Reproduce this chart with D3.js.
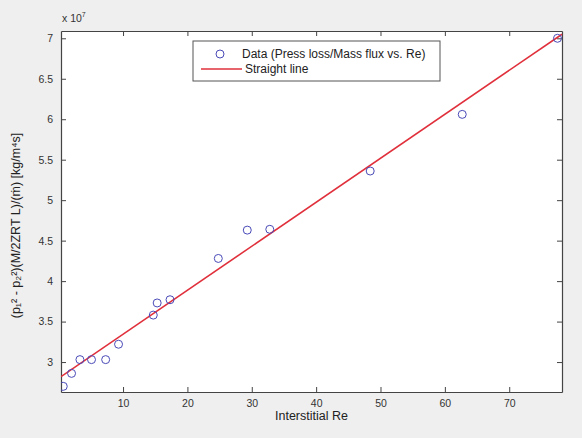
<!DOCTYPE html>
<html>
<head>
<meta charset="utf-8">
<script src="https://cdn.jsdelivr.net/npm/d3@7"></script>
<style>
  html, body { margin: 0; padding: 0; background: #efefef; }
  svg { display: block; }
  text { font-family: "Liberation Sans", Arial, sans-serif; }
</style>
</head>
<body>
<svg id="chart" width="582" height="438"></svg>
<script>
// Measured points: interstitial Reynolds number vs. pressure-loss / mass-flux group (×10^7)
const reValues   = [0.71, 2.0, 3.3, 5.1, 7.3, 9.3, 14.7, 15.3, 17.3, 24.8, 29.3, 32.8, 48.4, 62.7, 77.5];
const lossValues = [2.70, 2.86, 3.03, 3.03, 3.03, 3.22, 3.58, 3.73, 3.77, 4.28, 4.63, 4.64, 5.36, 6.06, 7.00];

// Least-squares straight line endpoints
const fitRe   = [0.36, 78.2];
const fitLoss = [2.82, 7.05];

const xTicks = [10, 20, 30, 40, 50, 60, 70];
const yTicks = [3, 3.5, 4, 4.5, 5, 5.5, 6, 6.5, 7];

const xDomain = [0.36, 78.2];
const yDomain = [2.63, 7.09];

const legendLabels = ["Data (Press loss/Mass flux vs. Re)", "Straight line"];

const svg = d3.select("#chart");
const m = { left: 61, right: 562, top: 31, bottom: 392 };

const x = d3.scaleLinear().domain(xDomain).range([m.left, m.right]);
const y = d3.scaleLinear().domain(yDomain).range([m.bottom, m.top]);

const axisColor = "#444";
const markerColor = "#4a4ab8";
const lineColor = "#e0303c";

// plot area
svg.append("rect")
  .attr("x", m.left).attr("y", m.top)
  .attr("width", m.right - m.left).attr("height", m.bottom - m.top)
  .attr("fill", "#fff");

svg.append("clipPath").attr("id", "plotclip")
  .append("rect")
  .attr("x", m.left).attr("y", m.top - 2)
  .attr("width", m.right - m.left + 2).attr("height", m.bottom - m.top + 2);

// axes (ticks pointing inward, mirrored on the opposite sides)
const tickLen = 5;
const axB = svg.append("g").attr("transform", `translate(0,${m.bottom})`)
  .call(d3.axisBottom(x).tickValues(xTicks).tickSizeInner(-tickLen).tickSizeOuter(0).tickPadding(8).tickFormat(d3.format("d")));
const axT = svg.append("g").attr("transform", `translate(0,${m.top})`)
  .call(d3.axisTop(x).tickValues(xTicks).tickSizeInner(-tickLen).tickSizeOuter(0).tickFormat(""));
const axL = svg.append("g").attr("transform", `translate(${m.left},0)`)
  .call(d3.axisLeft(y).tickValues(yTicks).tickSizeInner(-tickLen).tickSizeOuter(0).tickPadding(8).tickFormat(d => d3.format("~g")(d)));
const axR = svg.append("g").attr("transform", `translate(${m.right},0)`)
  .call(d3.axisRight(y).tickValues(yTicks).tickSizeInner(-tickLen).tickSizeOuter(0).tickFormat(""));

[axB, axT, axL, axR].forEach(g => {
  g.selectAll("path.domain").attr("stroke", axisColor).attr("stroke-width", 1.2);
  g.selectAll(".tick line").attr("stroke", axisColor);
  g.selectAll(".tick text").attr("fill", "#333").attr("font-size", 10.5);
});

// fitted line
svg.append("line")
  .attr("clip-path", "url(#plotclip)")
  .attr("x1", x(fitRe[0])).attr("y1", y(fitLoss[0]))
  .attr("x2", x(fitRe[1])).attr("y2", y(fitLoss[1]))
  .attr("stroke", lineColor).attr("stroke-width", 1.6);

// data markers
svg.append("g").attr("clip-path", "url(#plotclip)")
  .selectAll("circle")
  .data(reValues.map((r, i) => [r, lossValues[i]]))
  .join("circle")
  .attr("cx", d => x(d[0])).attr("cy", d => y(d[1]))
  .attr("r", 4)
  .attr("fill", "none")
  .attr("stroke", markerColor)
  .attr("stroke-width", 1);

// exponent marker
const expo = svg.append("text").attr("x", 62).attr("y", 22).attr("font-size", 10.5).attr("fill", "#333");
expo.append("tspan").text("x 10");
expo.append("tspan").attr("dy", -5).attr("font-size", 7).text("7");

// axis titles
svg.append("text")
  .attr("x", (m.left + m.right) / 2).attr("y", 420)
  .attr("text-anchor", "middle").attr("font-size", 12.5).attr("fill", "#222")
  .text("Interstitial Re");

svg.append("text")
  .attr("transform", `translate(20,${(m.top + m.bottom) / 2 + 14}) rotate(-90)`)
  .attr("text-anchor", "middle").attr("font-size", 12.5).attr("fill", "#222")
  .text("(p₁² - p₂²)(M/2ZRT L)/(ṁ)   [kg/m⁴s]");

// legend
const lg = svg.append("g");
lg.append("rect")
  .attr("x", 193).attr("y", 41).attr("width", 247).attr("height", 40)
  .attr("fill", "#fff").attr("stroke", "#555").attr("stroke-width", 1);
lg.append("circle").attr("cx", 220).attr("cy", 54).attr("r", 4)
  .attr("fill", "none").attr("stroke", markerColor);
lg.append("text").attr("x", 242).attr("y", 58).attr("font-size", 12).attr("fill", "#222").text(legendLabels[0]);
lg.append("line").attr("x1", 201).attr("x2", 242).attr("y1", 69).attr("y2", 69)
  .attr("stroke", lineColor).attr("stroke-width", 1.6);
lg.append("text").attr("x", 245).attr("y", 73).attr("font-size", 12).attr("fill", "#222").text(legendLabels[1]);
</script>
</body>
</html>
